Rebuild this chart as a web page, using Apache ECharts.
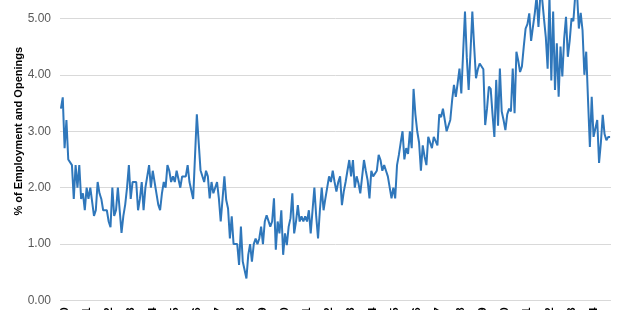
<!DOCTYPE html>
<html>
<head>
<meta charset="utf-8">
<script src="https://cdn.jsdelivr.net/npm/echarts@6/dist/echarts.min.js"></script>
<style>
html,body{margin:0;padding:0;background:#fff;}
#chart{width:620px;height:310px;}
</style>
</head>
<body>
<div id="chart"></div>
<script>
// Monthly series, Nov-1999 .. Oct-2024 (300 months)
const monthNames = ['Jan','Feb','Mar','Apr','May','Jun','Jul','Aug','Sep','Oct','Nov','Dec'];
const startYear = 1999, startMonth = 10; // Nov 1999
const monthCount = 300;
const categories = [];
for (let k = 0; k < monthCount; k++) {
  const t = startYear * 12 + startMonth + k;
  categories.push(monthNames[t % 12] + '-' + String(Math.floor(t / 12) % 100).padStart(2, '0'));
}

const valuesEarly = [
  3.4,3.6,2.7,3.2,2.5,2.5,2.4,1.8,2.4,2.0,2.4,1.8,1.9,1.6,2.0,1.8,2.0,2.0,1.5,1.6,
  2.1,1.9,1.8,1.6,1.6,1.6,1.4,1.3,2.0,1.5,1.6,2.0,1.6,1.2,1.5,1.7,2.0,2.4,1.8,2.1,
  2.1,2.1,1.6,1.8,2.1,1.6,2.0,2.0,2.4,2.0,2.3,2.3,1.9,1.7,1.6,1.9,2.1,2.0,2.4,2.3,
  2.1,2.2,2.1,2.3,2.3,2.0,2.2,2.2,2.2,2.4,2.1,2.1,1.8,1.8,3.3,3.3
];
const valuesMiddle = [
  2.31,2.3,2.1,2.3,2.2,1.81,2.1,1.9,1.9,2.1,1.81,1.4,1.4,2.2,1.78,1.63,1.1,1.49,1.0,1.0,
  1.0,0.63,1.31,0.69,0.69,0.39,0.81,1.0,0.69,1.0,1.1,1.0,1.1,1.31,1.0,1.4,1.51,1.49,1.31,1.4,
  1.81,0.9,1.4,1.19,1.6,0.81,1.19,0.98,1.31,1.46,1.9,1.19,1.4,1.69,1.4,1.49,1.4,1.49,1.4,1.6,
  1.19,1.6,2.0,1.49,1.1,1.6,2.0,1.6,1.81,1.81,2.2,2.1,2.3,2.1,1.93,
  2.1,2.2,1.69,1.93,2.1,2.3,2.49,2.2,2.49,2.0,2.2,2.08,1.9,1.9,2.49,2.3,2.13,1.81,2.3,2.2,2.2,2.3,
  2.58,2.49,2.3,2.4,2.3,2.2,2.2,1.81,2.0,1.81,2.4,2.58
];
const valuesLate = [
  2.8,3.0,2.5,2.7,2.6,3.0,2.7,3.75,3.3,3.0,2.8,2.3,2.75,2.55,2.4,2.9,2.9,2.7,2.9,2.9,
  2.75,3.3,3.25,3.4,3.2,3.0,3.0,3.2,3.55,3.82,3.61,3.85,4.11,3.67,4.4,5.12,4.3,3.73,4.4,5.12,
  4.5,3.94,4.1,4.2,4.2,4.1,3.11,3.4,3.79,3.75,3.3,2.9,3.91,3.1,4.11,3.35,3.2,3.02,3.3,3.4,
  3.35,4.11,3.32,4.41,4.25,4.05,4.15,4.5,4.82,4.9,5.09,4.6,4.85,5.09,5.4,4.85,5.4,5.35,5.0,4.67,
  4.11,5.4,3.9,5.12,3.73,4.56,3.61,4.5,3.97,4.64,5.03,4.32,4.6,5.0,4.95,5.4,5.45,4.82,5.1,4.79,
  4.0,4.41,3.55,2.72,3.61,2.9,2.9,3.2,2.44,2.8,3.29,2.95,2.84,2.9,2.9
];
const seriesValues = valuesEarly.concat(valuesMiddle, valuesLate);

const yTickMin = 0, yTickMax = 6, yTickStep = 1;
const yAxisTitle = '% of Employment and Openings';

const chart = echarts.init(document.getElementById('chart'), null, {renderer: 'canvas'});
chart.setOption({
  animation: false,
  backgroundColor: '#ffffff',
  grid: {left: 60, right: 9, top: -38, bottom: 9.5, outerBoundsMode: 'none', containLabel: false},
  xAxis: {
    type: 'category',
    data: categories,
    boundaryGap: true,
    axisLine: {show: false},
    axisTick: {show: false},
    axisLabel: {
      interval: function (idx, val) { return val.indexOf('Jan-') === 0; },
      rotate: 90,
      margin: 7,
      color: '#000000',
      fontWeight: 'bold',
      fontSize: 11,
      fontFamily: 'Liberation Sans'
    },
    splitLine: {show: false}
  },
  yAxis: {
    type: 'value',
    min: yTickMin,
    max: yTickMax,
    interval: yTickStep,
    name: yAxisTitle,
    nameLocation: 'middle',
    nameGap: 36,
    nameMoveOverlap: false,
    nameTextStyle: {fontWeight: 'bold', fontSize: 11, color: '#000000', fontFamily: 'Liberation Sans'},
    axisLine: {show: false},
    axisTick: {show: false},
    axisLabel: {
      formatter: function (v) { return v.toFixed(2); },
      color: '#595959',
      fontSize: 12,
      margin: 9,
      fontFamily: 'Liberation Sans'
    },
    splitLine: {lineStyle: {color: '#D9D9D9', width: 1}}
  },
  series: [{
    type: 'line',
    data: seriesValues,
    showSymbol: false,
    symbol: 'none',
    clip: false,
    lineStyle: {color: '#2F77BB', width: 2},
    itemStyle: {color: '#2F77BB'}
  }]
});
</script>
</body>
</html>
